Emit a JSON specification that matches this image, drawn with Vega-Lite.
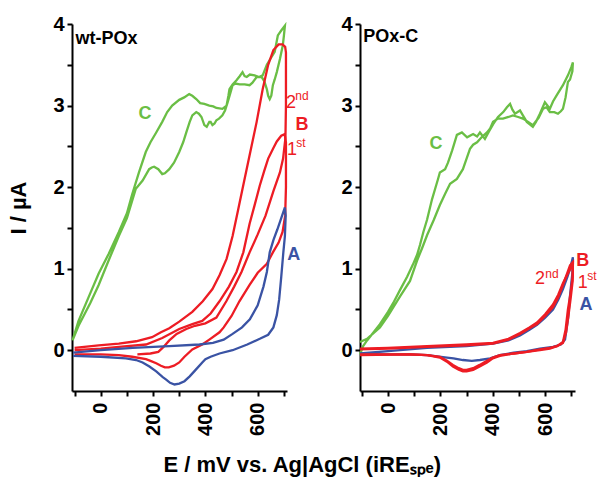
{
"$schema": "https://vega.github.io/schema/vega-lite/v6.json",
"background": "white",
"padding": {"left": 7, "top": 14, "right": 0, "bottom": 2},
"config": {
  "view": {"stroke": null},
  "font": "Liberation Sans",
  "axis": {"domainColor": "black", "domainWidth": 2, "tickColor": "black", "tickWidth": 2, "tickSize": 5, "grid": false, "labelFont": "Liberation Sans", "labelFontWeight": "bold", "labelFontSize": 20, "labelColor": "black", "titleFont": "Liberation Sans", "titleFontWeight": "bold", "titleFontSize": 22, "titleColor": "black"}
},
"title": {"text": "E / mV vs. Ag|AgCl (iREₛₚₑ)", "orient": "bottom", "anchor": "middle", "font": "Liberation Sans", "fontSize": 22, "fontWeight": "bold", "color": "black", "offset": 20, "dx": 0},
"datasets": {
"curves": [
{"panel":"wt-POx","s":"C","E":-108,"I":0.12},{"panel":"wt-POx","s":"C","E":-85,"I":0.36},{"panel":"wt-POx","s":"C","E":-40,"I":0.70},{"panel":"wt-POx","s":"C","E":-8,"I":0.94},{"panel":"wt-POx","s":"C","E":30,"I":1.18},{"panel":"wt-POx","s":"C","E":69,"I":1.45},{"panel":"wt-POx","s":"C","E":100,"I":1.68},{"panel":"wt-POx","s":"C","E":119,"I":1.90},{"panel":"wt-POx","s":"C","E":146,"I":2.18},{"panel":"wt-POx","s":"C","E":172,"I":2.43},{"panel":"wt-POx","s":"C","E":190,"I":2.55},{"panel":"wt-POx","s":"C","E":212,"I":2.67},{"panel":"wt-POx","s":"C","E":235,"I":2.80},{"panel":"wt-POx","s":"C","E":254,"I":2.92},{"panel":"wt-POx","s":"C","E":273,"I":3.00},{"panel":"wt-POx","s":"C","E":300,"I":3.07},{"panel":"wt-POx","s":"C","E":319,"I":3.10},{"panel":"wt-POx","s":"C","E":338,"I":3.14},{"panel":"wt-POx","s":"C","E":350,"I":3.12},{"panel":"wt-POx","s":"C","E":365,"I":3.08},{"panel":"wt-POx","s":"C","E":380,"I":3.03},{"panel":"wt-POx","s":"C","E":396,"I":3.02},{"panel":"wt-POx","s":"C","E":415,"I":3.00},{"panel":"wt-POx","s":"C","E":430,"I":2.99},{"panel":"wt-POx","s":"C","E":442,"I":2.97},{"panel":"wt-POx","s":"C","E":465,"I":2.96},{"panel":"wt-POx","s":"C","E":481,"I":3.00},{"panel":"wt-POx","s":"C","E":488,"I":3.12},{"panel":"wt-POx","s":"C","E":492,"I":3.20},{"panel":"wt-POx","s":"C","E":504,"I":3.26},{"panel":"wt-POx","s":"C","E":519,"I":3.31},{"panel":"wt-POx","s":"C","E":531,"I":3.36},{"panel":"wt-POx","s":"C","E":542,"I":3.41},{"panel":"wt-POx","s":"C","E":550,"I":3.36},{"panel":"wt-POx","s":"C","E":558,"I":3.35},{"panel":"wt-POx","s":"C","E":570,"I":3.38},{"panel":"wt-POx","s":"C","E":588,"I":3.37},{"panel":"wt-POx","s":"C","E":605,"I":3.35},{"panel":"wt-POx","s":"C","E":619,"I":3.37},{"panel":"wt-POx","s":"C","E":635,"I":3.50},{"panel":"wt-POx","s":"C","E":650,"I":3.58},{"panel":"wt-POx","s":"C","E":665,"I":3.66},{"panel":"wt-POx","s":"C","E":677,"I":3.86},{"panel":"wt-POx","s":"C","E":690,"I":3.92},{"panel":"wt-POx","s":"C","E":704,"I":3.98},
{"panel":"wt-POx","s":"C","E":700,"I":3.85},{"panel":"wt-POx","s":"C","E":696,"I":3.74},{"panel":"wt-POx","s":"C","E":685,"I":3.57},{"panel":"wt-POx","s":"C","E":673,"I":3.41},{"panel":"wt-POx","s":"C","E":665,"I":3.32},{"panel":"wt-POx","s":"C","E":658,"I":3.25},{"panel":"wt-POx","s":"C","E":652,"I":3.12},{"panel":"wt-POx","s":"C","E":646,"I":3.08},{"panel":"wt-POx","s":"C","E":640,"I":3.12},{"panel":"wt-POx","s":"C","E":635,"I":3.20},{"panel":"wt-POx","s":"C","E":625,"I":3.30},{"panel":"wt-POx","s":"C","E":615,"I":3.35},{"panel":"wt-POx","s":"C","E":596,"I":3.35},{"panel":"wt-POx","s":"C","E":580,"I":3.28},{"panel":"wt-POx","s":"C","E":569,"I":3.25},{"panel":"wt-POx","s":"C","E":550,"I":3.26},{"panel":"wt-POx","s":"C","E":531,"I":3.26},{"panel":"wt-POx","s":"C","E":515,"I":3.27},{"panel":"wt-POx","s":"C","E":504,"I":3.25},{"panel":"wt-POx","s":"C","E":495,"I":3.15},{"panel":"wt-POx","s":"C","E":485,"I":3.04},{"panel":"wt-POx","s":"C","E":475,"I":2.94},{"panel":"wt-POx","s":"C","E":465,"I":2.88},{"panel":"wt-POx","s":"C","E":452,"I":2.84},{"panel":"wt-POx","s":"C","E":442,"I":2.82},{"panel":"wt-POx","s":"C","E":435,"I":2.78},{"panel":"wt-POx","s":"C","E":427,"I":2.76},{"panel":"wt-POx","s":"C","E":420,"I":2.80},{"panel":"wt-POx","s":"C","E":415,"I":2.80},{"panel":"wt-POx","s":"C","E":405,"I":2.74},{"panel":"wt-POx","s":"C","E":396,"I":2.76},{"panel":"wt-POx","s":"C","E":385,"I":2.86},{"panel":"wt-POx","s":"C","E":375,"I":2.90},{"panel":"wt-POx","s":"C","E":365,"I":2.92},{"panel":"wt-POx","s":"C","E":350,"I":2.88},{"panel":"wt-POx","s":"C","E":340,"I":2.80},{"panel":"wt-POx","s":"C","E":327,"I":2.67},{"panel":"wt-POx","s":"C","E":315,"I":2.55},{"panel":"wt-POx","s":"C","E":300,"I":2.43},{"panel":"wt-POx","s":"C","E":280,"I":2.30},{"panel":"wt-POx","s":"C","E":262,"I":2.22},{"panel":"wt-POx","s":"C","E":245,"I":2.17},{"panel":"wt-POx","s":"C","E":235,"I":2.16},{"panel":"wt-POx","s":"C","E":220,"I":2.22},{"panel":"wt-POx","s":"C","E":204,"I":2.25},{"panel":"wt-POx","s":"C","E":195,"I":2.24},{"panel":"wt-POx","s":"C","E":185,"I":2.22},{"panel":"wt-POx","s":"C","E":160,"I":2.08},{"panel":"wt-POx","s":"C","E":134,"I":1.98},{"panel":"wt-POx","s":"C","E":100,"I":1.62},{"panel":"wt-POx","s":"C","E":69,"I":1.40},{"panel":"wt-POx","s":"C","E":30,"I":1.10},{"panel":"wt-POx","s":"C","E":-8,"I":0.80},{"panel":"wt-POx","s":"C","E":-40,"I":0.58},{"panel":"wt-POx","s":"C","E":-85,"I":0.30},{"panel":"wt-POx","s":"C","E":-108,"I":0.12},

{"panel":"wt-POx","s":"B1","E":-100,"I":0.00},{"panel":"wt-POx","s":"B1","E":0,"I":0.02},{"panel":"wt-POx","s":"B1","E":69,"I":0.04},{"panel":"wt-POx","s":"B1","E":173,"I":0.07},{"panel":"wt-POx","s":"B1","E":235,"I":0.15},{"panel":"wt-POx","s":"B1","E":300,"I":0.26},{"panel":"wt-POx","s":"B1","E":350,"I":0.32},{"panel":"wt-POx","s":"B1","E":388,"I":0.36},{"panel":"wt-POx","s":"B1","E":420,"I":0.45},{"panel":"wt-POx","s":"B1","E":454,"I":0.60},{"panel":"wt-POx","s":"B1","E":490,"I":0.78},{"panel":"wt-POx","s":"B1","E":519,"I":0.96},{"panel":"wt-POx","s":"B1","E":545,"I":1.20},{"panel":"wt-POx","s":"B1","E":569,"I":1.55},{"panel":"wt-POx","s":"B1","E":590,"I":1.80},{"panel":"wt-POx","s":"B1","E":608,"I":2.02},{"panel":"wt-POx","s":"B1","E":625,"I":2.20},{"panel":"wt-POx","s":"B1","E":640,"I":2.35},{"panel":"wt-POx","s":"B1","E":660,"I":2.48},{"panel":"wt-POx","s":"B1","E":673,"I":2.56},{"panel":"wt-POx","s":"B1","E":690,"I":2.63},{"panel":"wt-POx","s":"B1","E":703,"I":2.65},
{"panel":"wt-POx","s":"B1","E":708,"I":2.55},{"panel":"wt-POx","s":"B1","E":708,"I":2.00},{"panel":"wt-POx","s":"B1","E":705,"I":1.65},{"panel":"wt-POx","s":"B1","E":695,"I":1.45},{"panel":"wt-POx","s":"B1","E":680,"I":1.32},{"panel":"wt-POx","s":"B1","E":658,"I":1.20},{"panel":"wt-POx","s":"B1","E":635,"I":1.06},{"panel":"wt-POx","s":"B1","E":600,"I":0.95},{"panel":"wt-POx","s":"B1","E":569,"I":0.80},{"panel":"wt-POx","s":"B1","E":530,"I":0.60},{"panel":"wt-POx","s":"B1","E":500,"I":0.42},{"panel":"wt-POx","s":"B1","E":470,"I":0.28},{"panel":"wt-POx","s":"B1","E":454,"I":0.22},{"panel":"wt-POx","s":"B1","E":415,"I":0.13},{"panel":"wt-POx","s":"B1","E":388,"I":0.07},{"panel":"wt-POx","s":"B1","E":350,"I":0.01},{"panel":"wt-POx","s":"B1","E":320,"I":-0.08},{"panel":"wt-POx","s":"B1","E":300,"I":-0.15},{"panel":"wt-POx","s":"B1","E":280,"I":-0.19},{"panel":"wt-POx","s":"B1","E":260,"I":-0.21},{"panel":"wt-POx","s":"B1","E":245,"I":-0.21},{"panel":"wt-POx","s":"B1","E":230,"I":-0.19},{"panel":"wt-POx","s":"B1","E":212,"I":-0.16},{"panel":"wt-POx","s":"B1","E":190,"I":-0.13},{"panel":"wt-POx","s":"B1","E":173,"I":-0.11},{"panel":"wt-POx","s":"B1","E":120,"I":-0.08},{"panel":"wt-POx","s":"B1","E":69,"I":-0.06},{"panel":"wt-POx","s":"B1","E":0,"I":-0.05},{"panel":"wt-POx","s":"B1","E":-100,"I":-0.05},

{"panel":"wt-POx","s":"B2","E":-100,"I":0.03},{"panel":"wt-POx","s":"B2","E":-8,"I":0.06},{"panel":"wt-POx","s":"B2","E":69,"I":0.08},{"panel":"wt-POx","s":"B2","E":135,"I":0.11},{"panel":"wt-POx","s":"B2","E":196,"I":0.16},{"panel":"wt-POx","s":"B2","E":230,"I":0.22},{"panel":"wt-POx","s":"B2","E":262,"I":0.27},{"panel":"wt-POx","s":"B2","E":300,"I":0.35},{"panel":"wt-POx","s":"B2","E":350,"I":0.47},{"panel":"wt-POx","s":"B2","E":390,"I":0.60},{"panel":"wt-POx","s":"B2","E":427,"I":0.75},{"panel":"wt-POx","s":"B2","E":454,"I":0.92},{"panel":"wt-POx","s":"B2","E":481,"I":1.12},{"panel":"wt-POx","s":"B2","E":504,"I":1.40},{"panel":"wt-POx","s":"B2","E":525,"I":1.72},{"panel":"wt-POx","s":"B2","E":542,"I":1.98},{"panel":"wt-POx","s":"B2","E":569,"I":2.39},{"panel":"wt-POx","s":"B2","E":596,"I":2.80},{"panel":"wt-POx","s":"B2","E":619,"I":3.20},{"panel":"wt-POx","s":"B2","E":640,"I":3.50},{"panel":"wt-POx","s":"B2","E":660,"I":3.68},{"panel":"wt-POx","s":"B2","E":680,"I":3.75},{"panel":"wt-POx","s":"B2","E":695,"I":3.75},{"panel":"wt-POx","s":"B2","E":705,"I":3.72},
{"panel":"wt-POx","s":"B2","E":708,"I":3.65},{"panel":"wt-POx","s":"B2","E":708,"I":3.00},{"panel":"wt-POx","s":"B2","E":706,"I":2.60},{"panel":"wt-POx","s":"B2","E":697,"I":2.35},{"panel":"wt-POx","s":"B2","E":685,"I":2.18},{"panel":"wt-POx","s":"B2","E":660,"I":1.95},{"panel":"wt-POx","s":"B2","E":630,"I":1.65},{"panel":"wt-POx","s":"B2","E":600,"I":1.42},{"panel":"wt-POx","s":"B2","E":569,"I":1.20},{"panel":"wt-POx","s":"B2","E":538,"I":0.96},{"panel":"wt-POx","s":"B2","E":510,"I":0.78},{"panel":"wt-POx","s":"B2","E":480,"I":0.60},{"panel":"wt-POx","s":"B2","E":442,"I":0.40},{"panel":"wt-POx","s":"B2","E":400,"I":0.33},{"panel":"wt-POx","s":"B2","E":360,"I":0.30},{"panel":"wt-POx","s":"B2","E":327,"I":0.26},{"panel":"wt-POx","s":"B2","E":290,"I":0.20},{"panel":"wt-POx","s":"B2","E":262,"I":0.12},{"panel":"wt-POx","s":"B2","E":240,"I":0.04},{"panel":"wt-POx","s":"B2","E":220,"I":-0.02},{"panel":"wt-POx","s":"B2","E":190,"I":-0.04},{"panel":"wt-POx","s":"B2","E":140,"I":-0.05},

{"panel":"wt-POx","s":"A","E":-106,"I":-0.03},{"panel":"wt-POx","s":"A","E":0,"I":0.00},{"panel":"wt-POx","s":"A","E":122,"I":0.03},{"panel":"wt-POx","s":"A","E":262,"I":0.05},{"panel":"wt-POx","s":"A","E":377,"I":0.07},{"panel":"wt-POx","s":"A","E":429,"I":0.09},{"panel":"wt-POx","s":"A","E":470,"I":0.13},{"panel":"wt-POx","s":"A","E":504,"I":0.20},{"panel":"wt-POx","s":"A","E":540,"I":0.28},{"panel":"wt-POx","s":"A","E":570,"I":0.38},{"panel":"wt-POx","s":"A","E":600,"I":0.55},{"panel":"wt-POx","s":"A","E":622,"I":0.78},{"panel":"wt-POx","s":"A","E":635,"I":0.96},{"panel":"wt-POx","s":"A","E":646,"I":1.20},{"panel":"wt-POx","s":"A","E":660,"I":1.35},{"panel":"wt-POx","s":"A","E":675,"I":1.48},{"panel":"wt-POx","s":"A","E":690,"I":1.62},{"panel":"wt-POx","s":"A","E":704,"I":1.75},
{"panel":"wt-POx","s":"A","E":707,"I":1.65},{"panel":"wt-POx","s":"A","E":704,"I":1.40},{"panel":"wt-POx","s":"A","E":698,"I":1.20},{"panel":"wt-POx","s":"A","E":690,"I":0.90},{"panel":"wt-POx","s":"A","E":682,"I":0.62},{"panel":"wt-POx","s":"A","E":673,"I":0.43},{"panel":"wt-POx","s":"A","E":660,"I":0.28},{"panel":"wt-POx","s":"A","E":640,"I":0.19},{"panel":"wt-POx","s":"A","E":608,"I":0.14},{"panel":"wt-POx","s":"A","E":560,"I":0.07},{"panel":"wt-POx","s":"A","E":504,"I":0.00},{"panel":"wt-POx","s":"A","E":454,"I":-0.04},{"panel":"wt-POx","s":"A","E":420,"I":-0.08},{"panel":"wt-POx","s":"A","E":400,"I":-0.11},{"panel":"wt-POx","s":"A","E":388,"I":-0.15},{"panel":"wt-POx","s":"A","E":360,"I":-0.25},{"panel":"wt-POx","s":"A","E":340,"I":-0.32},{"panel":"wt-POx","s":"A","E":320,"I":-0.38},{"panel":"wt-POx","s":"A","E":300,"I":-0.41},{"panel":"wt-POx","s":"A","E":282,"I":-0.42},{"panel":"wt-POx","s":"A","E":265,"I":-0.40},{"panel":"wt-POx","s":"A","E":250,"I":-0.36},{"panel":"wt-POx","s":"A","E":237,"I":-0.33},{"panel":"wt-POx","s":"A","E":212,"I":-0.26},{"panel":"wt-POx","s":"A","E":186,"I":-0.20},{"panel":"wt-POx","s":"A","E":160,"I":-0.15},{"panel":"wt-POx","s":"A","E":135,"I":-0.12},{"panel":"wt-POx","s":"A","E":96,"I":-0.10},{"panel":"wt-POx","s":"A","E":0,"I":-0.08},{"panel":"wt-POx","s":"A","E":-106,"I":-0.07},

{"panel":"POx-C","s":"C","E":-107,"I":-0.05},{"panel":"POx-C","s":"C","E":-95,"I":0.05},{"panel":"POx-C","s":"C","E":-80,"I":0.12},{"panel":"POx-C","s":"C","E":-55,"I":0.22},{"panel":"POx-C","s":"C","E":-31,"I":0.32},{"panel":"POx-C","s":"C","E":0,"I":0.47},{"panel":"POx-C","s":"C","E":20,"I":0.58},{"panel":"POx-C","s":"C","E":46,"I":0.74},{"panel":"POx-C","s":"C","E":73,"I":0.90},{"panel":"POx-C","s":"C","E":95,"I":1.05},{"panel":"POx-C","s":"C","E":111,"I":1.17},{"panel":"POx-C","s":"C","E":122,"I":1.29},{"panel":"POx-C","s":"C","E":135,"I":1.45},{"panel":"POx-C","s":"C","E":149,"I":1.60},{"panel":"POx-C","s":"C","E":168,"I":1.85},{"panel":"POx-C","s":"C","E":180,"I":1.98},{"panel":"POx-C","s":"C","E":191,"I":2.10},{"panel":"POx-C","s":"C","E":198,"I":2.18},{"panel":"POx-C","s":"C","E":218,"I":2.22},{"panel":"POx-C","s":"C","E":229,"I":2.30},{"panel":"POx-C","s":"C","E":245,"I":2.45},{"panel":"POx-C","s":"C","E":263,"I":2.64},{"panel":"POx-C","s":"C","E":282,"I":2.67},{"panel":"POx-C","s":"C","E":302,"I":2.61},{"panel":"POx-C","s":"C","E":325,"I":2.65},{"panel":"POx-C","s":"C","E":340,"I":2.62},{"panel":"POx-C","s":"C","E":351,"I":2.67},{"panel":"POx-C","s":"C","E":370,"I":2.59},{"panel":"POx-C","s":"C","E":385,"I":2.68},{"panel":"POx-C","s":"C","E":401,"I":2.77},{"panel":"POx-C","s":"C","E":420,"I":2.86},{"panel":"POx-C","s":"C","E":440,"I":2.92},{"panel":"POx-C","s":"C","E":454,"I":2.98},{"panel":"POx-C","s":"C","E":466,"I":3.02},{"panel":"POx-C","s":"C","E":475,"I":2.95},{"panel":"POx-C","s":"C","E":485,"I":2.90},{"panel":"POx-C","s":"C","E":504,"I":2.94},{"panel":"POx-C","s":"C","E":515,"I":2.88},{"panel":"POx-C","s":"C","E":530,"I":2.80},{"panel":"POx-C","s":"C","E":553,"I":2.74},{"panel":"POx-C","s":"C","E":565,"I":2.80},{"panel":"POx-C","s":"C","E":580,"I":2.90},{"panel":"POx-C","s":"C","E":599,"I":3.04},{"panel":"POx-C","s":"C","E":618,"I":2.96},{"panel":"POx-C","s":"C","E":630,"I":3.05},{"panel":"POx-C","s":"C","E":645,"I":3.13},{"panel":"POx-C","s":"C","E":668,"I":3.25},{"panel":"POx-C","s":"C","E":687,"I":3.37},{"panel":"POx-C","s":"C","E":700,"I":3.47},{"panel":"POx-C","s":"C","E":706,"I":3.53},
{"panel":"POx-C","s":"C","E":704,"I":3.42},{"panel":"POx-C","s":"C","E":695,"I":3.32},{"panel":"POx-C","s":"C","E":687,"I":3.29},{"panel":"POx-C","s":"C","E":678,"I":3.10},{"panel":"POx-C","s":"C","E":668,"I":2.96},{"panel":"POx-C","s":"C","E":660,"I":2.93},{"panel":"POx-C","s":"C","E":649,"I":2.90},{"panel":"POx-C","s":"C","E":635,"I":2.92},{"panel":"POx-C","s":"C","E":618,"I":2.92},{"panel":"POx-C","s":"C","E":605,"I":2.98},{"panel":"POx-C","s":"C","E":592,"I":2.96},{"panel":"POx-C","s":"C","E":575,"I":2.85},{"panel":"POx-C","s":"C","E":553,"I":2.76},{"panel":"POx-C","s":"C","E":535,"I":2.80},{"panel":"POx-C","s":"C","E":515,"I":2.84},{"panel":"POx-C","s":"C","E":497,"I":2.86},{"panel":"POx-C","s":"C","E":477,"I":2.88},{"panel":"POx-C","s":"C","E":460,"I":2.86},{"panel":"POx-C","s":"C","E":439,"I":2.84},{"panel":"POx-C","s":"C","E":420,"I":2.84},{"panel":"POx-C","s":"C","E":401,"I":2.80},{"panel":"POx-C","s":"C","E":390,"I":2.72},{"panel":"POx-C","s":"C","E":378,"I":2.67},{"panel":"POx-C","s":"C","E":360,"I":2.62},{"panel":"POx-C","s":"C","E":340,"I":2.55},{"panel":"POx-C","s":"C","E":325,"I":2.52},{"panel":"POx-C","s":"C","E":313,"I":2.47},{"panel":"POx-C","s":"C","E":300,"I":2.35},{"panel":"POx-C","s":"C","E":286,"I":2.22},{"panel":"POx-C","s":"C","E":263,"I":2.10},{"panel":"POx-C","s":"C","E":237,"I":2.04},{"panel":"POx-C","s":"C","E":220,"I":1.93},{"panel":"POx-C","s":"C","E":198,"I":1.78},{"panel":"POx-C","s":"C","E":175,"I":1.60},{"panel":"POx-C","s":"C","E":149,"I":1.41},{"panel":"POx-C","s":"C","E":130,"I":1.25},{"panel":"POx-C","s":"C","E":111,"I":1.10},{"panel":"POx-C","s":"C","E":84,"I":0.85},{"panel":"POx-C","s":"C","E":46,"I":0.66},{"panel":"POx-C","s":"C","E":0,"I":0.42},{"panel":"POx-C","s":"C","E":-31,"I":0.28},{"panel":"POx-C","s":"C","E":-80,"I":0.14},{"panel":"POx-C","s":"C","E":-107,"I":0.10},

{"panel":"POx-C","s":"A","E":-107,"I":-0.04},{"panel":"POx-C","s":"A","E":0,"I":-0.01},{"panel":"POx-C","s":"A","E":149,"I":0.03},{"panel":"POx-C","s":"A","E":300,"I":0.05},{"panel":"POx-C","s":"A","E":401,"I":0.08},{"panel":"POx-C","s":"A","E":460,"I":0.12},{"panel":"POx-C","s":"A","E":504,"I":0.18},{"panel":"POx-C","s":"A","E":540,"I":0.25},{"panel":"POx-C","s":"A","E":569,"I":0.31},{"panel":"POx-C","s":"A","E":600,"I":0.40},{"panel":"POx-C","s":"A","E":630,"I":0.50},{"panel":"POx-C","s":"A","E":650,"I":0.62},{"panel":"POx-C","s":"A","E":668,"I":0.75},{"panel":"POx-C","s":"A","E":685,"I":0.90},{"panel":"POx-C","s":"A","E":695,"I":1.00},{"panel":"POx-C","s":"A","E":706,"I":1.14},
{"panel":"POx-C","s":"A","E":704,"I":0.95},{"panel":"POx-C","s":"A","E":695,"I":0.67},{"panel":"POx-C","s":"A","E":688,"I":0.40},{"panel":"POx-C","s":"A","E":676,"I":0.13},{"panel":"POx-C","s":"A","E":660,"I":0.07},{"panel":"POx-C","s":"A","E":630,"I":0.04},{"panel":"POx-C","s":"A","E":580,"I":0.02},{"panel":"POx-C","s":"A","E":530,"I":-0.01},{"panel":"POx-C","s":"A","E":480,"I":-0.03},{"panel":"POx-C","s":"A","E":427,"I":-0.06},{"panel":"POx-C","s":"A","E":390,"I":-0.10},{"panel":"POx-C","s":"A","E":351,"I":-0.12},{"panel":"POx-C","s":"A","E":320,"I":-0.13},{"panel":"POx-C","s":"A","E":286,"I":-0.12},{"panel":"POx-C","s":"A","E":250,"I":-0.10},{"panel":"POx-C","s":"A","E":225,"I":-0.09},{"panel":"POx-C","s":"A","E":150,"I":-0.06},{"panel":"POx-C","s":"A","E":84,"I":-0.05},{"panel":"POx-C","s":"A","E":-107,"I":-0.05},

{"panel":"POx-C","s":"B1","E":-107,"I":0.01},{"panel":"POx-C","s":"B1","E":0,"I":0.02},{"panel":"POx-C","s":"B1","E":149,"I":0.04},{"panel":"POx-C","s":"B1","E":300,"I":0.06},{"panel":"POx-C","s":"B1","E":401,"I":0.08},{"panel":"POx-C","s":"B1","E":460,"I":0.13},{"panel":"POx-C","s":"B1","E":504,"I":0.20},{"panel":"POx-C","s":"B1","E":540,"I":0.27},{"panel":"POx-C","s":"B1","E":569,"I":0.32},{"panel":"POx-C","s":"B1","E":600,"I":0.42},{"panel":"POx-C","s":"B1","E":630,"I":0.53},{"panel":"POx-C","s":"B1","E":650,"I":0.65},{"panel":"POx-C","s":"B1","E":668,"I":0.80},{"panel":"POx-C","s":"B1","E":685,"I":0.95},{"panel":"POx-C","s":"B1","E":695,"I":1.04},{"panel":"POx-C","s":"B1","E":706,"I":1.08},
{"panel":"POx-C","s":"B1","E":705,"I":0.90},{"panel":"POx-C","s":"B1","E":697,"I":0.70},{"panel":"POx-C","s":"B1","E":687,"I":0.50},{"panel":"POx-C","s":"B1","E":678,"I":0.25},{"panel":"POx-C","s":"B1","E":668,"I":0.10},{"panel":"POx-C","s":"B1","E":645,"I":0.05},{"panel":"POx-C","s":"B1","E":618,"I":0.03},{"panel":"POx-C","s":"B1","E":580,"I":0.01},{"panel":"POx-C","s":"B1","E":530,"I":-0.02},{"panel":"POx-C","s":"B1","E":480,"I":-0.04},{"panel":"POx-C","s":"B1","E":427,"I":-0.07},{"panel":"POx-C","s":"B1","E":400,"I":-0.10},{"panel":"POx-C","s":"B1","E":378,"I":-0.15},{"panel":"POx-C","s":"B1","E":350,"I":-0.20},{"panel":"POx-C","s":"B1","E":325,"I":-0.24},{"panel":"POx-C","s":"B1","E":300,"I":-0.26},{"panel":"POx-C","s":"B1","E":286,"I":-0.26},{"panel":"POx-C","s":"B1","E":270,"I":-0.24},{"panel":"POx-C","s":"B1","E":248,"I":-0.20},{"panel":"POx-C","s":"B1","E":225,"I":-0.14},{"panel":"POx-C","s":"B1","E":198,"I":-0.09},{"panel":"POx-C","s":"B1","E":150,"I":-0.06},{"panel":"POx-C","s":"B1","E":84,"I":-0.05},{"panel":"POx-C","s":"B1","E":-107,"I":-0.06},

{"panel":"POx-C","s":"B2","E":-107,"I":0.02},{"panel":"POx-C","s":"B2","E":0,"I":0.03},{"panel":"POx-C","s":"B2","E":149,"I":0.05},{"panel":"POx-C","s":"B2","E":300,"I":0.07},{"panel":"POx-C","s":"B2","E":401,"I":0.09},{"panel":"POx-C","s":"B2","E":460,"I":0.14},{"panel":"POx-C","s":"B2","E":504,"I":0.21},{"panel":"POx-C","s":"B2","E":540,"I":0.28},{"panel":"POx-C","s":"B2","E":569,"I":0.34},{"panel":"POx-C","s":"B2","E":600,"I":0.44},{"panel":"POx-C","s":"B2","E":630,"I":0.56},{"panel":"POx-C","s":"B2","E":650,"I":0.68},{"panel":"POx-C","s":"B2","E":668,"I":0.82},{"panel":"POx-C","s":"B2","E":685,"I":0.93},{"panel":"POx-C","s":"B2","E":700,"I":1.02},{"panel":"POx-C","s":"B2","E":706,"I":1.05},
{"panel":"POx-C","s":"B2","E":705,"I":0.85},{"panel":"POx-C","s":"B2","E":698,"I":0.65},{"panel":"POx-C","s":"B2","E":690,"I":0.45},{"panel":"POx-C","s":"B2","E":680,"I":0.22},{"panel":"POx-C","s":"B2","E":668,"I":0.09},{"panel":"POx-C","s":"B2","E":645,"I":0.05},{"panel":"POx-C","s":"B2","E":618,"I":0.02},{"panel":"POx-C","s":"B2","E":580,"I":0.00},{"panel":"POx-C","s":"B2","E":530,"I":-0.02},{"panel":"POx-C","s":"B2","E":480,"I":-0.04},{"panel":"POx-C","s":"B2","E":427,"I":-0.06},{"panel":"POx-C","s":"B2","E":400,"I":-0.09},{"panel":"POx-C","s":"B2","E":378,"I":-0.13},{"panel":"POx-C","s":"B2","E":350,"I":-0.18},{"panel":"POx-C","s":"B2","E":325,"I":-0.22},{"panel":"POx-C","s":"B2","E":300,"I":-0.24},{"panel":"POx-C","s":"B2","E":286,"I":-0.24},{"panel":"POx-C","s":"B2","E":270,"I":-0.22},{"panel":"POx-C","s":"B2","E":248,"I":-0.18},{"panel":"POx-C","s":"B2","E":225,"I":-0.13},{"panel":"POx-C","s":"B2","E":198,"I":-0.08},{"panel":"POx-C","s":"B2","E":150,"I":-0.06},{"panel":"POx-C","s":"B2","E":84,"I":-0.05},{"panel":"POx-C","s":"B2","E":-107,"I":-0.05}
],
"labels": [
{"panel":"wt-POx","kind":"name","E":-97,"I":3.76,"text":"wt-POx","s":"K"},
{"panel":"wt-POx","kind":"big","E":169,"I":2.9,"text":"C","s":"C"},
{"panel":"wt-POx","kind":"num","E":727,"I":3.03,"text":"2","s":"B1"},
{"panel":"wt-POx","kind":"sup","E":769,"I":3.12,"text":"nd","s":"B1"},
{"panel":"wt-POx","kind":"big","E":769,"I":2.76,"text":"B","s":"B1"},
{"panel":"wt-POx","kind":"num","E":731,"I":2.45,"text":"1","s":"B1"},
{"panel":"wt-POx","kind":"sup","E":765,"I":2.54,"text":"st","s":"B1"},
{"panel":"wt-POx","kind":"big","E":738,"I":1.17,"text":"A","s":"A"},
{"panel":"POx-C","kind":"name","E":-95,"I":3.78,"text":"POx-C","s":"K"},
{"panel":"POx-C","kind":"big","E":183,"I":2.53,"text":"C","s":"C"},
{"panel":"POx-C","kind":"big","E":744,"I":1.09,"text":"B","s":"B1"},
{"panel":"POx-C","kind":"num","E":580,"I":0.87,"text":"2","s":"B1"},
{"panel":"POx-C","kind":"sup","E":626,"I":0.93,"text":"nd","s":"B1"},
{"panel":"POx-C","kind":"num","E":744,"I":0.82,"text":"1","s":"B1"},
{"panel":"POx-C","kind":"sup","E":779,"I":0.91,"text":"st","s":"B1"},
{"panel":"POx-C","kind":"big","E":756,"I":0.55,"text":"A","s":"A"}
]
},
"spacing": 73,
"bounds": "flush",
"hconcat": [
{
 "width": 215, "height": 367,
 "encoding": {
   "x": {"field": "E", "type": "quantitative", "scale": {"domain": [-110, 712], "nice": false, "zero": false}, "axis": {"title": null, "values": [-100,0,100,200,300,400,500,600,700], "labelExpr": "datum.value % 200 === 0 ? format(datum.value, 'd') : ''", "labelAngle": 270, "labelPadding": 6}},
   "y": {"field": "I", "type": "quantitative", "scale": {"domain": [-0.5, 4], "nice": false, "zero": false}, "axis": {"title": "I / µA", "values": [0,0.5,1,1.5,2,2.5,3,3.5,4], "labelExpr": "datum.value % 1 === 0 ? format(datum.value, 'd') : ''", "labelPadding": 3, "titlePadding": 22}},
   "color": {"field": "s", "type": "nominal", "scale": {"domain": ["A","B1","B2","C","K"], "range": ["#3a53a4","#ed1c24","#ed1c24","#6abe45","#000000"]}, "legend": null}
 },
 "layer": [
  {"data": {"name": "curves"}, "transform": [{"filter": "datum.panel === 'wt-POx'"}], "mark": {"type": "line", "strokeWidth": 2.3, "clip": false}, "encoding": {"order": {"value": null}}},
  {"data": {"name": "labels"}, "transform": [{"filter": "datum.panel === 'wt-POx' && datum.kind === 'name'"}], "mark": {"type": "text", "align": "left", "baseline": "alphabetic", "font": "Liberation Sans", "fontWeight": "bold", "fontSize": 18}, "encoding": {"text": {"field": "text"}}},
  {"data": {"name": "labels"}, "transform": [{"filter": "datum.panel === 'wt-POx' && datum.kind === 'big'"}], "mark": {"type": "text", "align": "center", "baseline": "middle", "font": "Liberation Sans", "fontWeight": "bold", "fontSize": 18}, "encoding": {"text": {"field": "text"}}},
  {"data": {"name": "labels"}, "transform": [{"filter": "datum.panel === 'wt-POx' && datum.kind === 'num'"}], "mark": {"type": "text", "align": "center", "baseline": "middle", "font": "Liberation Sans", "fontSize": 18}, "encoding": {"text": {"field": "text"}}},
  {"data": {"name": "labels"}, "transform": [{"filter": "datum.panel === 'wt-POx' && datum.kind === 'sup'"}], "mark": {"type": "text", "align": "center", "baseline": "middle", "font": "Liberation Sans", "fontSize": 12}, "encoding": {"text": {"field": "text"}}}
 ]
},
{
 "width": 215, "height": 367,
 "encoding": {
   "x": {"field": "E", "type": "quantitative", "scale": {"domain": [-107, 714], "nice": false, "zero": false}, "axis": {"title": null, "values": [-100,0,100,200,300,400,500,600,700], "labelExpr": "datum.value % 200 === 0 ? format(datum.value, 'd') : ''", "labelAngle": 270, "labelPadding": 6}},
   "y": {"field": "I", "type": "quantitative", "scale": {"domain": [-0.5, 4], "nice": false, "zero": false}, "axis": {"title": null, "values": [0,0.5,1,1.5,2,2.5,3,3.5,4], "labelExpr": "datum.value % 1 === 0 ? format(datum.value, 'd') : ''", "labelPadding": 3}},
   "color": {"field": "s", "type": "nominal", "scale": {"domain": ["A","B1","B2","C","K"], "range": ["#3a53a4","#ed1c24","#ed1c24","#6abe45","#000000"]}, "legend": null}
 },
 "layer": [
  {"data": {"name": "curves"}, "transform": [{"filter": "datum.panel === 'POx-C'"}], "mark": {"type": "line", "strokeWidth": 2.3, "clip": false}, "encoding": {"order": {"value": null}}},
  {"data": {"name": "labels"}, "transform": [{"filter": "datum.panel === 'POx-C' && datum.kind === 'name'"}], "mark": {"type": "text", "align": "left", "baseline": "alphabetic", "font": "Liberation Sans", "fontWeight": "bold", "fontSize": 18}, "encoding": {"text": {"field": "text"}}},
  {"data": {"name": "labels"}, "transform": [{"filter": "datum.panel === 'POx-C' && datum.kind === 'big'"}], "mark": {"type": "text", "align": "center", "baseline": "middle", "font": "Liberation Sans", "fontWeight": "bold", "fontSize": 18}, "encoding": {"text": {"field": "text"}}},
  {"data": {"name": "labels"}, "transform": [{"filter": "datum.panel === 'POx-C' && datum.kind === 'num'"}], "mark": {"type": "text", "align": "center", "baseline": "middle", "font": "Liberation Sans", "fontSize": 18}, "encoding": {"text": {"field": "text"}}},
  {"data": {"name": "labels"}, "transform": [{"filter": "datum.panel === 'POx-C' && datum.kind === 'sup'"}], "mark": {"type": "text", "align": "center", "baseline": "middle", "font": "Liberation Sans", "fontSize": 12}, "encoding": {"text": {"field": "text"}}}
 ]
}
]
}
